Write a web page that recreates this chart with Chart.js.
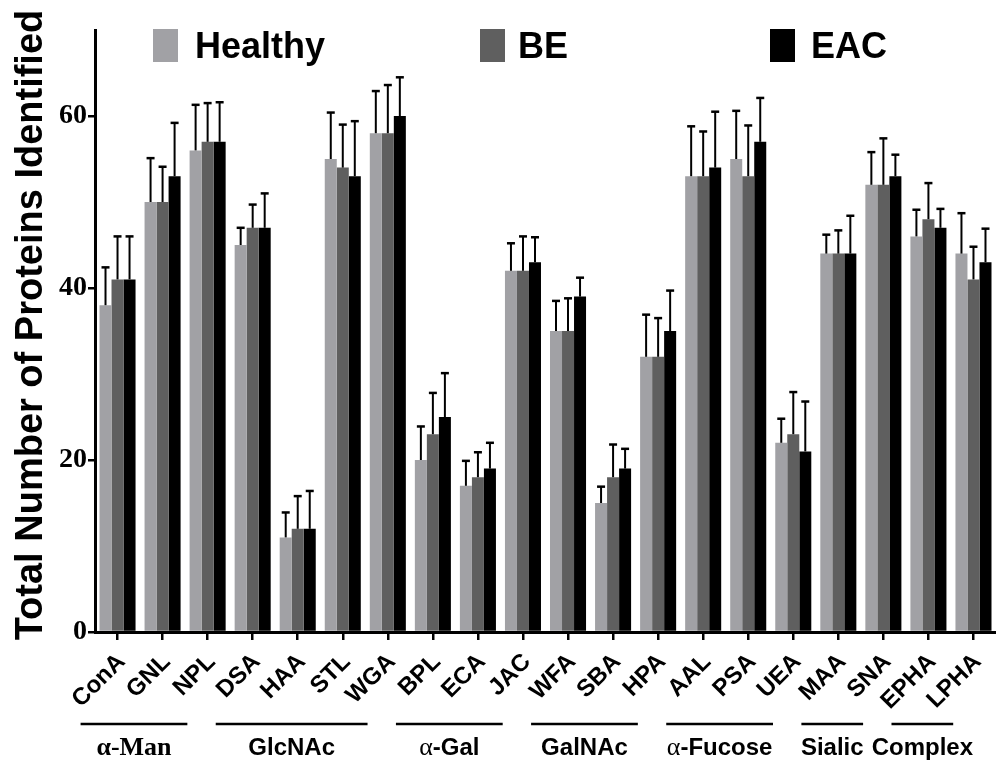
<!DOCTYPE html>
<html><head><meta charset="utf-8">
<script src="https://cdn.jsdelivr.net/npm/chart.js@4/dist/chart.umd.min.js"></script>
<style>html,body{margin:0;padding:0;background:#fff}#wrap{width:996px;height:760px;position:relative}</style>
</head><body><div id="wrap"><canvas id="c" width="996" height="760"></canvas></div>
<script>
const categories = ['ConA','GNL','NPL','DSA','HAA','STL','WGA','BPL','ECA','JAC','WFA','SBA','HPA','AAL','PSA','UEA','MAA','SNA','EPHA','LPHA'];
const seriesNames = ['Healthy','BE','EAC'];
const healthy = [38,50,56,45,11,55,58,20,17,42,35,15,32,53,55,22,44,52,46,44];
const be      = [41,50,57,47,12,54,58,23,18,42,35,18,32,53,53,23,44,52,48,41];
const eac     = [41,53,57,47,12,53,60,25,19,43,39,19,35,54,57,21,44,53,47,43];
const errHealthy = [4.4,5.1,5.3,2.0,2.9,5.4,4.9,3.9,2.9,3.2,3.5,1.9,4.9,5.8,5.6,2.8,2.2,3.8,3.1,4.7];
const errBE      = [5.0,4.1,4.5,2.7,3.8,5.0,5.6,4.8,2.9,4.0,3.8,3.8,4.5,5.2,5.9,4.9,2.7,5.4,4.2,3.8];
const errEAC     = [5.0,6.2,4.6,4.0,4.4,6.4,4.5,5.1,3.0,2.9,2.2,2.3,4.7,6.5,5.1,5.8,4.4,2.5,2.2,3.9];
const yTicks = [0,20,40,60];
const yTitle = 'Total Number of Proteins Identified';
const groupNames = ['α-Man','GlcNAc','α-Gal','GalNAc','α-Fucose','Sialic','Complex'];
const groupFirst = ['ConA','DSA','BPL','WFA','AAL','MAA','EPHA'];
const groupLast  = ['NPL','WGA','JAC','HPA','UEA','SNA','LPHA'];

const colors = ['#a1a1a5','#5f5f5f','#000000'];
const SANS = 'Liberation Sans', SERIF = 'Liberation Serif';

const errorBars = {
  id:'errorBars',
  afterDatasetsDraw(chart){
    const ctx = chart.ctx, y = chart.scales.y;
    chart.data.datasets.forEach((ds,di)=>{
      const meta = chart.getDatasetMeta(di);
      meta.data.forEach((bar,i)=>{
        const top = y.getPixelForValue(ds.data[i] + ds.errors[i]);
        ctx.save();
        ctx.strokeStyle = '#000';
        ctx.lineWidth = 2;
        ctx.beginPath(); ctx.moveTo(bar.x, bar.y); ctx.lineTo(bar.x, top); ctx.stroke();
        ctx.lineWidth = 2.5;
        ctx.beginPath(); ctx.moveTo(bar.x-4, top); ctx.lineTo(bar.x+4, top); ctx.stroke();
        ctx.restore();
      });
    });
  }
};

const customLegend = {
  id:'customLegend',
  afterDraw(chart){
    const ctx = chart.ctx;
    const boxX = [153,480,770], textX = [195,518,811];
    ctx.save();
    seriesNames.forEach((n,i)=>{
      ctx.fillStyle = colors[i];
      ctx.fillRect(boxX[i], 29, 25, 33);
      ctx.fillStyle = '#000';
      ctx.font = 'bold 36px "'+SANS+'"';
      ctx.textBaseline = 'alphabetic';
      ctx.textAlign = 'left';
      ctx.fillText(n, textX[i], 58);
    });
    ctx.restore();
  }
};

const axisTitle = {
  id:'axisTitle',
  afterDraw(chart){
    const ctx = chart.ctx;
    ctx.save();
    ctx.translate(42, 325);
    ctx.rotate(-Math.PI/2);
    ctx.fillStyle = '#000';
    ctx.font = 'bold 38px "'+SANS+'"';
    ctx.textAlign = 'center';
    ctx.textBaseline = 'alphabetic';
    ctx.fillText(yTitle, 0, 0);
    ctx.restore();
  }
};

const groupLabels = {
  id:'groupLabels',
  afterDraw(chart){
    const ctx = chart.ctx, x = chart.scales.x;
    const step = x.getPixelForValue(1) - x.getPixelForValue(0);
    ctx.save();
    groupNames.forEach((g,i)=>{
      const a = x.getPixelForValue(categories.indexOf(groupFirst[i])) - 0.82*step;
      const b = x.getPixelForValue(categories.indexOf(groupLast[i])) - 0.45*step;
      ctx.strokeStyle = '#000'; ctx.lineWidth = 2.5;
      ctx.beginPath(); ctx.moveTo(a, 724); ctx.lineTo(b, 724); ctx.stroke();
      let segs;
      if (g === 'α-Man') segs = [['α', 'bold 26px "'+SERIF+'"'], ['-Man', 'bold 26px "'+SERIF+'"']];
      else if (g.startsWith('α')) segs = [['α', '26px "'+SERIF+'"'], [g.slice(1), 'bold 24px "'+SANS+'"']];
      else segs = [[g, 'bold 24px "'+SANS+'"']];
      let total = 0;
      segs.forEach(s=>{ ctx.font = s[1]; s.w = ctx.measureText(s[0]).width; total += s.w; });
      let cx = (a+b)/2 - total/2;
      ctx.fillStyle = '#000'; ctx.textBaseline = 'alphabetic'; ctx.textAlign = 'left';
      segs.forEach(s=>{ ctx.font = s[1]; ctx.fillText(s[0], cx, 755); cx += s.w; });
    });
    ctx.restore();
  }
};

const dataSeries = [healthy, be, eac];
const errSeries = [errHealthy, errBE, errEAC];

new Chart(document.getElementById('c'), {
  type:'bar',
  data:{
    labels: categories,
    datasets: seriesNames.map((n,i)=>({
      label:n, data:dataSeries[i], errors:errSeries[i],
      backgroundColor:colors[i], borderWidth:0,
      categoryPercentage:0.8, barPercentage:1.0
    }))
  },
  options:{
    responsive:false, animation:false, devicePixelRatio:1,
    layout:{padding:{top:30,left:0,right:0,bottom:0}},
    plugins:{legend:{display:false}, tooltip:{enabled:false}},
    scales:{
      x:{
        afterFit:s=>{ s.height = 128; s.paddingLeft = 0; s.paddingRight = 0; },
        ticks:{autoSkip:false, maxRotation:45, minRotation:45, padding:8, labelOffset:4,
               font:{family:SANS, weight:'bold', size:24}, color:'#000'},
        grid:{display:true, drawOnChartArea:false, offset:false, drawTicks:true, tickLength:8, color:'#000', lineWidth:2.5},
        border:{display:true, color:'#000', width:3}
      },
      y:{
        min:0, max:70,
        afterBuildTicks:s=>{ s.ticks = yTicks.map(v=>({value:v})); },
        afterFit:s=>{ s.width = 95; },
        ticks:{font:{family:SERIF, weight:'bold', size:28}, color:'#000', padding:1},
        grid:{display:true, drawOnChartArea:false, drawTicks:true, tickLength:7, color:'#000', lineWidth:2.5},
        border:{display:true, color:'#000', width:3}
      }
    }
  },
  plugins:[errorBars, customLegend, axisTitle, groupLabels]
});
</script></body></html>
